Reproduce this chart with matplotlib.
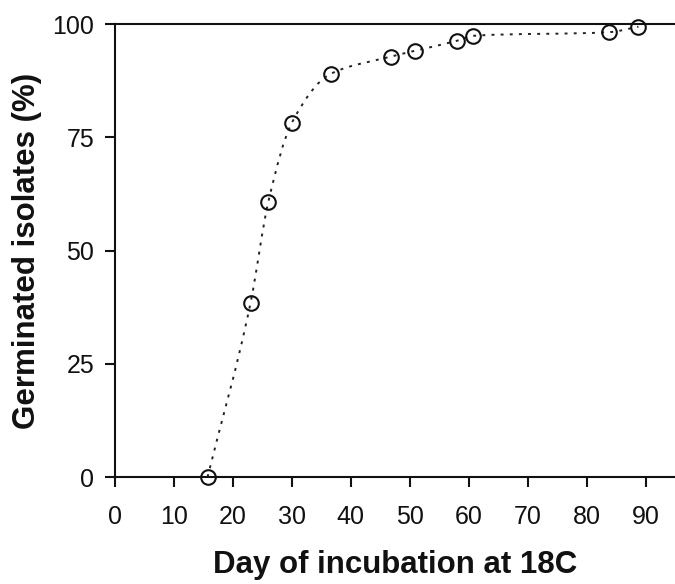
import matplotlib
matplotlib.use("Agg")
import matplotlib.pyplot as plt
from matplotlib.path import Path
import matplotlib.patches as patches
import numpy as np

plt.rcParams["font.family"] = ["Liberation Sans", "DejaVu Sans"]

# germination data
days = [15.7, 23.0, 26.0, 30.0, 36.6, 46.8, 50.9, 58.0, 60.8, 83.8, 88.8]
germinated = [0.0, 38.5, 60.7, 78.2, 89.0, 92.8, 94.1, 96.3, 97.4, 98.2, 99.4]
x_ticks = [0, 10, 20, 30, 40, 50, 60, 70, 80, 90]
y_ticks = [0, 25, 50, 75, 100]


def smooth_path(x, y):
    """Monotone cubic (Fritsch-Carlson) curve through the points as Bezier path."""
    x = np.asarray(x, float)
    y = np.asarray(y, float)
    h = np.diff(x)
    d = np.diff(y) / h
    m = np.zeros_like(x)
    m[0], m[-1] = d[0], d[-1]
    for i in range(1, len(x) - 1):
        if d[i - 1] * d[i] <= 0:
            m[i] = 0
        else:
            w1 = 2 * h[i] + h[i - 1]
            w2 = h[i] + 2 * h[i - 1]
            m[i] = (w1 + w2) / (w1 / d[i - 1] + w2 / d[i])
    verts = [(x[0], y[0])]
    codes = [Path.MOVETO]
    for i in range(len(x) - 1):
        verts += [(x[i] + h[i] / 3, y[i] + m[i] * h[i] / 3),
                  (x[i + 1] - h[i] / 3, y[i + 1] - m[i + 1] * h[i] / 3),
                  (x[i + 1], y[i + 1])]
        codes += [Path.CURVE4] * 3
    return Path(verts, codes)


fig = plt.figure(figsize=(6.75, 5.84), dpi=100)
ax = fig.add_axes([0.1704, 0.1832, 0.8296, 0.7757])

curve = patches.PathPatch(smooth_path(days, germinated), facecolor="none",
                          edgecolor="#222", linewidth=1.4, linestyle=(0, (1.5, 3.2)),
                          zorder=2)
ax.add_patch(curve)
ax.plot(days, germinated, linestyle="none", marker="o", markersize=10.5,
        markerfacecolor="none", markeredgecolor="#111", markeredgewidth=1.5,
        zorder=3, clip_on=False)

ax.set_xlim(0, 95)
ax.set_ylim(0, 100)
ax.set_xticks(x_ticks)
ax.set_yticks(y_ticks)
ax.spines["right"].set_visible(False)
for s in ["left", "bottom", "top"]:
    ax.spines[s].set_linewidth(1.5)
    ax.spines[s].set_color("#111")
ax.tick_params(axis="both", direction="out", length=7, width=1.5, color="#111",
               labelsize=18, labelcolor="#111")
ax.tick_params(axis="x", pad=13)
ax.tick_params(axis="y", pad=8)

ax.set_xlabel("Day of incubation at 18C", fontsize=22.5, fontweight="bold",
              labelpad=15, color="#111")
ax.set_ylabel("Germinated isolates (%)", fontsize=22.5, fontweight="bold",
              labelpad=7.5, color="#111")

fig.savefig("out.png", dpi=100, facecolor="white")
plt.close(fig)
